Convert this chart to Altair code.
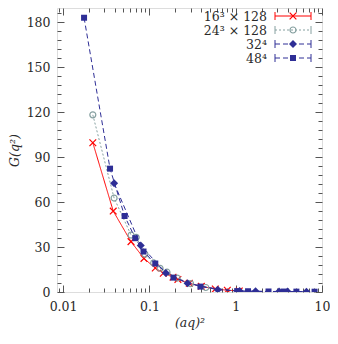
import altair as alt
import pandas as pd

# ---------------- data ----------------
series_labels = ["16³ × 128", "24³ × 128", "32⁴", "48⁴"]

x_16 = [0.0221, 0.0381, 0.0612, 0.0865, 0.117, 0.145, 0.188, 0.214, 0.29, 0.40, 0.58, 0.80, 1.10]
y_16 = [99.6, 54.0, 33.6, 22.4, 16.0, 12.5, 9.9, 8.4, 5.8, 3.8, 2.0, 1.2, 0.7]

x_24 = [0.0221, 0.0390, 0.0613, 0.0704, 0.0887, 0.112, 0.133, 0.160, 0.210, 0.300, 0.450]
y_24 = [118.2, 62.7, 38.0, 36.5, 25.3, 19.4, 15.8, 13.2, 9.3, 5.6, 3.0]

x_32 = [0.0390, 0.0794, 0.155, 0.277, 0.620, 1.11, 1.70, 3.18, 3.98, 6.60]
y_32 = [72.6, 31.0, 12.7, 5.9, 1.5, 0.6, 0.45, 0.35, 0.30, 0.25]

x_48 = [0.0175, 0.0350, 0.0516, 0.0686, 0.0855, 0.117, 0.190, 0.390, 1.04, 1.39, 2.40, 3.60, 5.05, 8.20]
y_48 = [183.0, 82.3, 50.7, 35.9, 27.0, 19.0, 9.6, 3.6, 0.6, 0.5, 0.35, 0.30, 0.25, 0.20]

xs = [x_16, x_24, x_32, x_48]
ys = [y_16, y_24, y_32, y_48]

x_major = [0.01, 0.1, 1, 10]
x_ticks = [0.009] + [round(k * 10.0 ** e, 6) for e in (-2, -1, 0) for k in range(1, 10)] + [10]
y_ticks = list(range(0, 190, 6))

# ---------------- style ----------------
colors = ["#ff0000", "#86a0a0", "#2e2e96", "#2e2e96"]
dashes = [[1, 0], [2, 2], [5, 3], [5, 3]]
shapes = ["M-1,-1L1,1M-1,1L1,-1", "circle", "diamond", "square"]
filled = [False, False, True, True]
sizes = [45, 36, 64, 36]

FONT = "DejaVu Serif"
FS = 12.5
TXT = "#2a2a2a"
W, H = 265, 284
XDOM = [0.0085, 10]
YDOM = [0, 189.5]

x_major_test = " || ".join(f"datum.value == {v}" for v in x_major)
x_label_expr = " : ".join(f"datum.value == {v} ? '{v}'" for v in x_major) + " : ''"

xscale = alt.Scale(type="log", domain=XDOM, nice=False)
yscale = alt.Scale(domain=YDOM, nice=False, zero=False)

x_axis_bottom = alt.Axis(
    orient="bottom", values=x_ticks, title="(aq)²", grid=False, domain=False,
    tickSize=alt.ExprRef(f"({x_major_test}) ? -7 : -4"),
    tickColor="#555", tickWidth=1,
    labelExpr=x_label_expr, labelPadding=15, labelOverlap=False, labelFlush=False,
    labelFont=FONT, labelFontSize=FS, labelColor=TXT,
    titleFont=FONT, titleFontSize=FS, titleFontStyle="italic", titleFontWeight="normal",
    titleColor=TXT, titlePadding=1,
)
y_axis_left = alt.Axis(
    orient="left", values=y_ticks, title="G(q²)", grid=False, domain=False,
    tickSize=alt.ExprRef("(datum.value % 30 == 0) ? -7 : -4"),
    tickColor="#555", tickWidth=1,
    labelExpr="datum.value % 30 == 0 ? datum.label : ''", labelPadding=14,
    labelOverlap=False, labelFlush=False,
    labelFont=FONT, labelFontSize=FS, labelColor=TXT,
    titleFont=FONT, titleFontSize=FS, titleFontStyle="italic", titleFontWeight="normal",
    titleColor=TXT, titlePadding=5,
)
x_axis_top = alt.Axis(
    orient="top", values=x_ticks, title=None, grid=False, domain=False, labels=False,
    tickSize=alt.ExprRef(f"({x_major_test}) ? -7 : -4"), tickColor="#555", tickWidth=1,
)
y_axis_right = alt.Axis(
    orient="right", values=y_ticks, title=None, grid=False, domain=False, labels=False,
    tickSize=alt.ExprRef("(datum.value % 30 == 0) ? -7 : -4"), tickColor="#555", tickWidth=1,
)

axis_df = pd.DataFrame({"x": x_16, "y": y_16})
axes_a = alt.Chart(axis_df).mark_point(opacity=0).encode(
    x=alt.X("x:Q", scale=xscale, axis=x_axis_bottom),
    y=alt.Y("y:Q", scale=yscale, axis=y_axis_left),
)
axes_b = alt.Chart(axis_df).mark_point(opacity=0).encode(
    x=alt.X("x:Q", scale=xscale, axis=x_axis_top),
    y=alt.Y("y:Q", scale=yscale, axis=y_axis_right),
)

layers = [axes_a, axes_b]
for i in range(4):
    df = pd.DataFrame({"x": xs[i], "y": ys[i]})
    enc = dict(
        x=alt.X("x:Q", scale=xscale, axis=None),
        y=alt.Y("y:Q", scale=yscale, axis=None),
    )
    line = alt.Chart(df).mark_line(
        color=colors[i], strokeDash=dashes[i], strokeWidth=1, clip=True
    ).encode(**enc)
    pts = alt.Chart(df).mark_point(
        shape=shapes[i], filled=filled[i], color=colors[i], size=sizes[i],
        opacity=1, strokeWidth=1.2, clip=True
    ).encode(**enc)
    layers += [line, pts]

# ---------------- legend (top right, labels left of samples) ----------------
leg_y = [8.0, 22.0, 36.0, 50.0]
CAP_R = W - 11
CAP_L = W - 47
MID = (CAP_L + CAP_R) / 2
TXT_R = W - 55
for i in range(4):
    ly = leg_y[i]
    txt = alt.Chart(pd.DataFrame({"t": [series_labels[i]]})).mark_text(
        align="right", baseline="middle", font=FONT, fontSize=FS, color=TXT
    ).encode(text="t:N", x=alt.value(TXT_R), y=alt.value(ly + 1))
    rule = alt.Chart(pd.DataFrame({"t": [0]})).mark_rule(
        color=colors[i], strokeDash=dashes[i], strokeWidth=1
    ).encode(x=alt.value(CAP_L), x2=alt.value(CAP_R), y=alt.value(ly))
    capl = alt.Chart(pd.DataFrame({"t": [0]})).mark_rule(
        color=colors[i], strokeWidth=1
    ).encode(x=alt.value(CAP_L), y=alt.value(ly - 4), y2=alt.value(ly + 4))
    capr = alt.Chart(pd.DataFrame({"t": [0]})).mark_rule(
        color=colors[i], strokeWidth=1
    ).encode(x=alt.value(CAP_R), y=alt.value(ly - 4), y2=alt.value(ly + 4))
    mk = alt.Chart(pd.DataFrame({"t": [0]})).mark_point(
        shape=shapes[i], filled=filled[i], color=colors[i], size=sizes[i],
        opacity=1, strokeWidth=1.2
    ).encode(x=alt.value(MID), y=alt.value(ly))
    layers += [rule, capl, capr, mk, txt]

chart = (
    alt.layer(*layers)
    .resolve_axis(x="independent", y="independent")
    .properties(
        width=W, height=H,
        autosize=alt.AutoSizeParams(type="none"),
        padding={"left": 49, "top": 0, "right": 8, "bottom": 42},
    )
    .configure_view(stroke="#555", strokeWidth=1)
    .configure(background="white")
)

chart.save("out.html", embed_options={"renderer": "svg", "actions": False})
